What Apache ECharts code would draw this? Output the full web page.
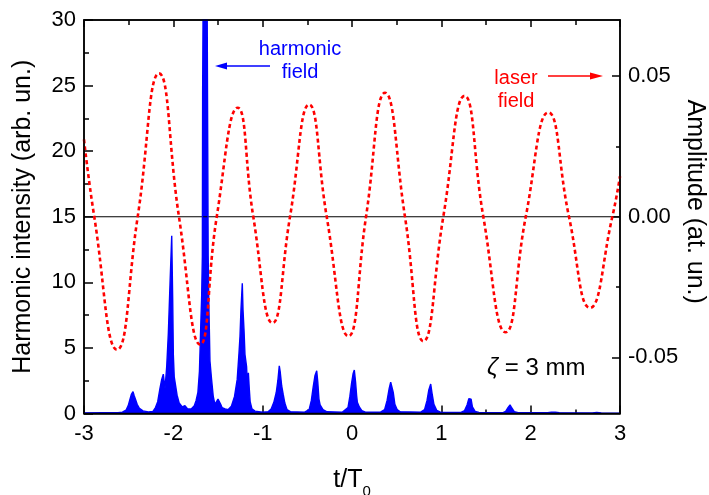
<!DOCTYPE html>
<html>
<head>
<meta charset="utf-8">
<script src="https://cdn.jsdelivr.net/npm/echarts@6/dist/echarts.min.js"></script>
<style>
html,body{margin:0;padding:0;background:#fff;}
#chart{width:709px;height:495px;}
</style>
</head>
<body>
<div id="chart"></div>
<script>
// ---- data ----
const xTicks = [-3, -2, -1, 0, 1, 2, 3];
const leftTicks = [0, 5, 10, 15, 20, 25, 30];
const rightLabelValues = [-0.05, 0, 0.05];
const rightMinorValues = [-0.025, 0.025];

// laser field (right axis, at. un.): [t/T0, amplitude]
const laserField = [
  [-3.0, 0.0275], [-2.885, 0], [-2.63, -0.0473], [-2.399, 0], [-2.16, 0.051],
  [-1.937, 0], [-1.70, -0.0455], [-1.514, 0], [-1.28, 0.0388], [-1.105, 0],
  [-0.89, -0.0378], [-0.694, 0], [-0.48, 0.0399], [-0.283, 0], [-0.04, -0.0425],
  [0.157, 0], [0.37, 0.0441], [0.593, 0], [0.80, -0.0443], [1.022, 0],
  [1.26, 0.043], [1.47, 0], [1.72, -0.0411], [1.945, 0], [2.198, 0.0371],
  [2.429, 0], [2.664, -0.0324], [2.914, 0], [3.0, 0.0144]
];

// harmonic field intensity (left axis, arb. un.): [t/T0, intensity]
const harmonicField = [
  [-3.0,0.05],[-2.80,0.06],[-2.62,0.07],
  [-2.57,0.1],[-2.53,0.25],[-2.505,0.6],[-2.485,1.1],[-2.47,1.45],[-2.451,1.66],[-2.44,1.4],[-2.425,1.1],[-2.405,0.7],[-2.38,0.4],[-2.34,0.2],[-2.28,0.12],
  [-2.23,0.15],[-2.20,0.45],[-2.175,0.9],[-2.15,1.9],[-2.13,2.6],[-2.112,3.0],[-2.10,2.3],[-2.093,1.9],[-2.074,3.6],[-2.056,6.1],[-2.037,9.9],[-2.018,13.55],[-2.007,8.6],[-2.0,4.5],[-1.99,2.8],[-1.974,2.8],[-1.958,1.4],[-1.935,0.8],[-1.9,0.5],[-1.87,0.6],[-1.84,0.35],[-1.80,0.35],[-1.765,0.6],[-1.745,1.0],[-1.725,1.6],
  [-1.708,3.2],[-1.701,4.8],[-1.69,7.4],[-1.683,8.9],[-1.675,12.0],[-1.672,24.4],[-1.666,32],[-1.622,32],[-1.615,20.3],[-1.61,12.0],[-1.603,8.6],[-1.59,4.0],[-1.572,2.6],[-1.553,1.3],[-1.535,0.7],[-1.515,0.8],[-1.5,1.1],[-1.485,1.16],[-1.47,0.7],[-1.455,0.45],[-1.42,0.35],[-1.385,0.3],
  [-1.35,0.55],[-1.315,1.3],[-1.285,2.6],[-1.265,4.6],[-1.254,5.85],[-1.243,7.9],[-1.228,9.92],[-1.22,7.9],[-1.209,6.4],[-1.198,4.5],[-1.18,3.57],[-1.17,2.0],[-1.16,3.1],[-1.15,1.9],[-1.14,0.9],[-1.12,0.35],[-1.086,0.18],[-1.0,0.1],
  [-0.94,0.14],[-0.905,0.35],[-0.875,0.85],[-0.848,1.6],[-0.83,2.5],[-0.814,3.64],[-0.804,3.2],[-0.787,2.1],[-0.77,1.45],[-0.752,0.8],[-0.728,0.3],[-0.69,0.14],
  [-0.53,0.1],[-0.48,0.3],[-0.455,1.0],[-0.435,2.0],[-0.414,2.9],[-0.395,3.26],[-0.383,2.4],[-0.37,1.1],[-0.357,0.65],[-0.347,0.8],[-0.325,0.3],[-0.28,0.13],
  [-0.11,0.1],[-0.045,0.45],[-0.024,1.3],[-0.005,2.3],[0.013,3.06],[0.026,3.31],[0.04,2.4],[0.052,1.35],[0.06,0.85],[0.067,1.0],[0.082,0.5],[0.11,0.22],[0.15,0.1],
  [0.32,0.1],[0.365,0.3],[0.393,1.0],[0.416,1.9],[0.433,2.38],[0.445,2.43],[0.462,1.6],[0.48,0.7],[0.505,0.3],[0.54,0.13],
  [0.77,0.1],[0.812,0.3],[0.84,1.0],[0.86,1.8],[0.881,2.25],[0.898,1.45],[0.917,0.7],[0.948,0.24],[0.99,0.1],
  [1.22,0.08],[1.26,0.22],[1.288,0.65],[1.308,1.13],[1.32,1.23],[1.333,1.1],[1.348,0.5],[1.378,0.16],[1.42,0.08],
  [1.69,0.07],[1.72,0.16],[1.748,0.47],[1.769,0.65],[1.789,0.42],[1.818,0.13],[1.86,0.07],
  [2.19,0.06],[2.232,0.1],[2.254,0.19],[2.277,0.1],[2.32,0.06],
  [2.69,0.04],[2.74,0.08],[2.79,0.04],[3.0,0.03]
];

// zero reference line of the laser field
const zeroLine = [[-3, 0], [3, 0]];

// ---- chart ----
const FONT = "'Liberation Sans', Arial, sans-serif";
const GRID = {left: 84, right: 89, top: 20, bottom: 81.5};
const W = 709, H = 495;
const chart = echarts.init(document.getElementById('chart'), null, {renderer: 'canvas'});

function axLine(show) { return {show: show, onZero: false, lineStyle: {color: '#000', width: 1.5}}; }
function tStyle() { return {color: '#000', width: 1.5}; }

const option = {
  animation: false,
  backgroundColor: '#fff',
  grid: {left: GRID.left, right: GRID.right, top: GRID.top, bottom: GRID.bottom, outerBoundsMode: 'none', containLabel: false},
  xAxis: [
    {
      type: 'value', min: xTicks[0], max: xTicks[xTicks.length - 1], interval: 1, position: 'bottom',
      axisLine: axLine(true),
      axisTick: {show: true, inside: true, length: 8, lineStyle: tStyle()},
      minorTick: {show: true, splitNumber: 2, length: 4, lineStyle: tStyle()},
      splitLine: {show: false}, minorSplitLine: {show: false},
      axisLabel: {fontSize: 22, color: '#000', margin: 9, fontFamily: FONT},
      name: 't/T{s|0}', nameLocation: 'middle', nameGap: 47,
      nameTextStyle: {fontSize: 25, color: '#000', fontFamily: FONT,
        rich: {s: {fontSize: 15, color: '#000', fontFamily: FONT, padding: [24, 0, 0, 0]}}}
    },
    {
      type: 'value', min: xTicks[0], max: xTicks[xTicks.length - 1], interval: 1, position: 'top',
      axisLine: axLine(true),
      axisTick: {show: true, inside: true, length: 7, lineStyle: tStyle()},
      minorTick: {show: true, splitNumber: 2, length: 5, lineStyle: tStyle()},
      splitLine: {show: false}, minorSplitLine: {show: false},
      axisLabel: {show: false}
    }
  ],
  yAxis: [
    {
      type: 'value', min: leftTicks[0], max: leftTicks[leftTicks.length - 1], interval: 5, position: 'left',
      axisLine: axLine(true),
      axisTick: {show: true, inside: true, length: 9, lineStyle: tStyle()},
      minorTick: {show: true, splitNumber: 2, length: 5, lineStyle: tStyle()},
      splitLine: {show: false}, minorSplitLine: {show: false},
      axisLabel: {fontSize: 22, color: '#000', margin: 8, fontFamily: FONT},
      name: 'Harmonic intensity (arb. un.)', nameLocation: 'middle', nameGap: 48,
      nameTextStyle: {fontSize: 25, color: '#000', fontFamily: FONT}
    },
    {
      type: 'value', min: -0.07, max: 0.07, position: 'right',
      axisLine: axLine(true),
      axisTick: {show: true, inside: true, length: 8, lineStyle: tStyle(), customValues: rightLabelValues},
      splitLine: {show: false},
      axisLabel: {fontSize: 22, color: '#000', margin: 8, fontFamily: FONT,
        customValues: rightLabelValues, formatter: v => Number(v).toFixed(2)},
      name: 'Amplitude (at. un.)', nameLocation: 'middle', nameGap: 62, nameRotate: -90,
      nameMoveOverlap: false,
      nameTextStyle: {fontSize: 25, color: '#000', fontFamily: FONT, padding: [0, 30, 0, 0]}
    },
    {
      type: 'value', min: -0.07, max: 0.07, position: 'right',
      axisLine: axLine(false),
      axisTick: {show: true, inside: true, length: 4, lineStyle: tStyle(), customValues: rightMinorValues},
      splitLine: {show: false},
      axisLabel: {show: false}
    }
  ],
  series: [
    {
      name: 'zero', type: 'line', xAxisIndex: 0, yAxisIndex: 1, data: zeroLine,
      symbol: 'none', silent: true, lineStyle: {color: '#000', width: 1.2}
    },
    {
      name: 'harmonic field', type: 'line', xAxisIndex: 0, yAxisIndex: 0, data: harmonicField,
      symbol: 'none', silent: true, clip: true,
      lineStyle: {color: '#0000ff', width: 1.4},
      areaStyle: {color: '#0000ff', opacity: 1}
    },
    {
      name: 'laser field', type: 'line', xAxisIndex: 0, yAxisIndex: 1, data: laserField,
      symbol: 'none', silent: true, smooth: 0.5,
      lineStyle: {color: '#ff0000', width: 2.6, type: [4, 3]}
    }
  ],
  graphic: [
    // plot frame
    {type: 'rect', silent: true, z: 100,
      shape: {x: GRID.left, y: GRID.top, width: W - GRID.left - GRID.right, height: H - GRID.top - GRID.bottom},
      style: {fill: 'none', stroke: '#000', lineWidth: 1.5}},

    {type: 'text', x: 300, y: 49, silent: true,
      style: {text: 'harmonic', fill: '#0000ff', font: '20px ' + FONT, align: 'center', verticalAlign: 'middle'}},
    {type: 'text', x: 300, y: 72.5, silent: true,
      style: {text: 'field', fill: '#0000ff', font: '20px ' + FONT, align: 'center', verticalAlign: 'middle'}},
    {type: 'line', silent: true, shape: {x1: 270, y1: 66, x2: 224, y2: 66}, style: {stroke: '#0000ff', lineWidth: 1.6}},
    {type: 'polygon', silent: true, shape: {points: [[215, 66], [227, 62.5], [227, 69.5]]}, style: {fill: '#0000ff'}},

    {type: 'text', x: 516, y: 78, silent: true,
      style: {text: 'laser', fill: '#ff0000', font: '20px ' + FONT, align: 'center', verticalAlign: 'middle'}},
    {type: 'text', x: 516, y: 101, silent: true,
      style: {text: 'field', fill: '#ff0000', font: '20px ' + FONT, align: 'center', verticalAlign: 'middle'}},
    {type: 'line', silent: true, shape: {x1: 548, y1: 76, x2: 594, y2: 76}, style: {stroke: '#ff0000', lineWidth: 1.6}},
    {type: 'polygon', silent: true, shape: {points: [[603, 76], [590, 72.5], [590, 79.5]]}, style: {fill: '#ff0000'}},

    {type: 'text', x: 487, y: 368.5, silent: true,
      style: {text: '{i|ζ} = 3 mm', fill: '#000', font: '24px ' + FONT, align: 'left', verticalAlign: 'middle',
        rich: {i: {fontStyle: 'italic', fontSize: 24, fontFamily: FONT, fill: '#000'}}}}
  ]
};
chart.setOption(option);
</script>
</body>
</html>
